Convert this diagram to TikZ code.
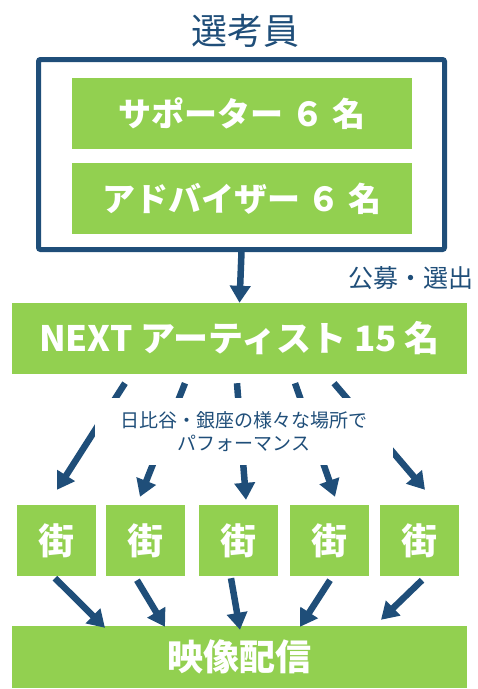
\documentclass[tikz,border=0pt]{standalone}
\usepackage{fontspec}
\newfontfamily\jp{Noto Sans CJK JP}
\usetikzlibrary{arrows.meta}
\definecolor{navy}{HTML}{1F4E79}
\definecolor{leaf}{HTML}{92D050}
\tikzset{
  greenbox/.style={fill=leaf, draw=none, inner sep=0pt, text=white, font=\jp\bfseries\fontsize{33}{38}\selectfont},
  arr/.style={draw=navy, line width=6.5pt, -{Triangle[length=17pt,width=20pt]}},
}
\begin{document}
\begin{tikzpicture}[x=1pt,y=-1pt]
\useasboundingbox (0,0) rectangle (478,689);
\node[text=navy, font=\jp\fontsize{36}{40}\selectfont] (title) at (245,31) {選考員};
\node[draw=navy, line width=5pt, rounded corners=2pt, minimum width=406pt, minimum height=190pt, inner sep=0pt] (panel) at (241.5,154.5) {};
\node[greenbox, minimum width=340pt, minimum height=71pt] (sup) at (242,113.5) {サポーター ６ 名};
\node[greenbox, minimum width=340pt, minimum height=71pt] (adv) at (242,198.5) {アドバイザー ６ 名};
\node[greenbox, minimum width=455pt, minimum height=71pt, font=\jp\bfseries\fontsize{35}{40}\selectfont] (next) at (239.5,338.5) {NEXT アーティスト 15 名};
\node[text=navy, font=\jp\fontsize{25}{29}\selectfont] (recruit) at (411,278) {公募・選出};
\foreach \i/\x in {1/56.5,2/145.5,3/238.5,4/329.5,5/419.5}
  \node[greenbox, minimum width=79pt, minimum height=71pt, font=\jp\bfseries\fontsize{36}{40}\selectfont] (st\i) at (\x,540.5) {街};
\node[greenbox, minimum width=455pt, minimum height=62pt, font=\jp\bfseries\fontsize{36}{40}\selectfont] (video) at (239.5,657) {映像配信};
% arrows
\draw[arr] (panel.south) -- (next.north);
\draw[arr] ([shift={(-114.5,9)}]next.south) -- ([shift={(0.5,-15)}]st1.north);
\draw[arr] ([shift={(-54.5,9)}]next.south) -- ([shift={(-5.5,-8)}]st2.north);
\draw[arr] ([shift={(-2.5,9)}]next.south) -- ([shift={(7.5,-5)}]st3.north);
\draw[arr] ([shift={(55.5,9)}]next.south) -- ([shift={(5.5,-8)}]st4.north);
\draw[arr] ([shift={(94.5,9)}]next.south) -- ([shift={(5.5,-15)}]st5.north);
\draw[arr] ([shift={(-1.5,2)}]st1.south) -- ([shift={(-134.5,2)}]video.north);
\draw[arr] ([shift={(-8.5,4)}]st2.south) -- ([shift={(-74.5,1)}]video.north);
\draw[arr] ([shift={(-7.5,2)}]st3.south) -- ([shift={(0.5,4)}]video.north);
\draw[arr] ([shift={(0.5,4)}]st4.south) -- ([shift={(60.5,1)}]video.north);
\draw[arr] ([shift={(2.5,4)}]st5.south) -- ([shift={(141.5,-6)}]video.north);
\node[fill=white, text=navy, minimum width=298pt, minimum height=67pt, inner sep=0pt, align=center, font=\jp\fontsize{19}{23}\selectfont] (venue) at (244,431.5) {日比谷・銀座の様々な場所で\\パフォーマンス};
\end{tikzpicture}
\end{document}
